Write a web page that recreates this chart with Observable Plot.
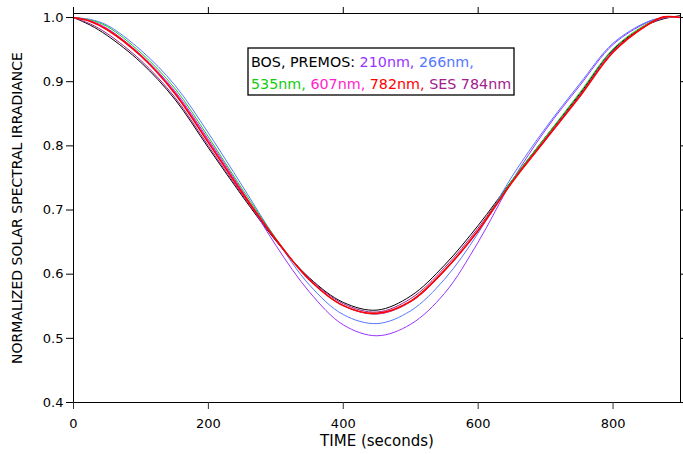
<!DOCTYPE html>
<html><head><meta charset="utf-8">
<script src="https://cdn.jsdelivr.net/npm/d3@7"></script>
<script src="https://cdn.jsdelivr.net/npm/@observablehq/plot@0.6"></script>
<style>body{margin:0;background:#fff} svg{font-family:"DejaVu Sans",sans-serif}</style>
</head><body><div id="chart"></div>
<script>
const times   = [0,25,50,100,150,200,250,300,350,400,450,500,550,600,650,700,750,800,850,875,900];
const bos     = [1.0,0.988,0.972,0.930,0.873,0.797,0.722,0.652,0.594,0.556,0.544,0.566,0.614,0.676,0.746,0.814,0.880,0.950,0.988,0.998,1.003];
const nm210   = [1.0,0.995,0.983,0.942,0.886,0.810,0.730,0.645,0.572,0.521,0.504,0.522,0.570,0.650,0.745,0.825,0.893,0.958,0.992,1.000,1.000];
const nm266   = [1.0,0.997,0.988,0.949,0.895,0.820,0.738,0.655,0.583,0.537,0.523,0.543,0.592,0.664,0.752,0.828,0.896,0.960,0.993,1.000,1.000];
const nm535   = [1.0,0.996,0.986,0.945,0.890,0.814,0.733,0.656,0.591,0.551,0.538,0.557,0.605,0.668,0.746,0.814,0.882,0.951,0.990,1.000,1.000];
const nm607   = [1.0,0.995,0.982,0.941,0.884,0.808,0.729,0.655,0.591,0.551,0.538,0.557,0.605,0.667,0.743,0.809,0.876,0.946,0.988,1.000,1.000];
const nm782   = [1.0,0.994,0.981,0.940,0.882,0.805,0.727,0.654,0.591,0.551,0.539,0.558,0.606,0.668,0.743,0.810,0.876,0.946,0.988,1.001,1.000];
const ses784  = [1.0,0.990,0.975,0.933,0.876,0.800,0.724,0.653,0.593,0.554,0.541,0.562,0.610,0.672,0.745,0.812,0.878,0.948,0.988,0.999,1.000];

const seriesNames  = ["BOS","SES 784nm","210nm","266nm","535nm","607nm","782nm"];
const seriesValues = [bos, ses784, nm210, nm266, nm535, nm607, nm782];
const seriesColors = ["#000000","#a0208f","#9933ff","#5577ff","#11cc11","#ff22cc","#ff0000"];
const seriesWidths = [1,1,1,1,1,1,1.6];

const xTicks = [0,200,400,600,800];
const yTicks = [0.4,0.5,0.6,0.7,0.8,0.9,1.0];
const xLabel = "TIME (seconds)";
const yLabel = "NORMALIZED SOLAR SPECTRAL IRRADIANCE";

const legendLine1 = [["BOS, PREMOS: ","#000"],["210nm, ","#9933ff"],["266nm,","#5577ff"]];
const legendLine2 = [["535nm, ","#11cc11"],["607nm, ","#ff22cc"],["782nm, ","#ff0000"],["SES 784nm","#a0208f"]];

const lineMarks = seriesNames.map((name, i) => {
  const rows = times.map((t, j) => ({t, v: seriesValues[i][j], name}));
  return Plot.line(rows, {x: "t", y: "v", stroke: seriesColors[i], strokeWidth: seriesWidths[i], curve: "catmull-rom"});
});

const chart = Plot.plot({
  width: 683, height: 454,
  marginLeft: 73, marginRight: 3, marginTop: 13, marginBottom: 52,
  style: {fontFamily: "DejaVu Sans", fontSize: "13px", color: "#000", background: "#fff"},
  x: {domain: [0, 900]},
  y: {domain: [0.4, 1.0063]},
  marks: [
    ...lineMarks,
    Plot.frame({stroke: "#000", strokeWidth: 1}),
    Plot.axisX({ticks: xTicks, tickSize: 7, tickPadding: 9, label: null, fontSize: 13, stroke: "#333"}),
    Plot.axisX({anchor: "top", ticks: xTicks, tickSize: 7, tickFormat: () => "", label: null}),
    Plot.axisY({ticks: yTicks, tickSize: 7, tickPadding: 3, tickFormat: d3.format(".1f"), label: null, fontSize: 13}),
    Plot.axisY({anchor: "right", ticks: yTicks, tickSize: 5, tickFormat: () => "", label: null}),
    Plot.text([xLabel], {frameAnchor: "bottom", text: d => d, dy: 43, fontSize: 15, textAnchor: "middle"}),
    Plot.text([yLabel], {frameAnchor: "left", text: d => d, rotate: -90, dx: -56, fontSize: 14, textAnchor: "middle"})
  ]
});
document.getElementById("chart").appendChild(chart);

const svg = d3.select(chart);
const g = svg.append("g");
g.append("rect").attr("x", 248).attr("y", 48).attr("width", 266).attr("height", 47)
  .attr("fill", "#fff").attr("stroke", "#000").attr("stroke-width", 1.3);
[[legendLine1, 67], [legendLine2, 89]].forEach(([parts, y]) => {
  const t = g.append("text").attr("x", 251).attr("y", y).attr("font-size", 14.3)
    .attr("font-family", "DejaVu Sans").attr("text-anchor", "start").attr("xml:space", "preserve");
  parts.forEach(([s, c]) => t.append("tspan").attr("fill", c).text(s));
});
</script></body></html>
